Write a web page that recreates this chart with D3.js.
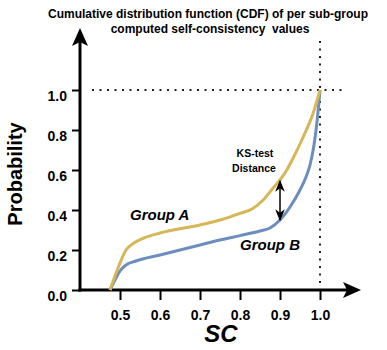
<!DOCTYPE html>
<html>
<head>
<meta charset="utf-8">
<script src="https://cdn.jsdelivr.net/npm/d3@7"></script>
<style>
  body { margin: 0; background: #fff; }
  svg text { font-family: "Liberation Sans", Arial, sans-serif; font-weight: bold; }
</style>
</head>
<body>
<svg id="chart" width="387" height="350"></svg>
<script>
// values
var group_a_sc = [0.475, 0.495, 0.515, 0.535, 0.56, 0.6, 0.7, 0.75, 0.8, 0.83, 0.858, 0.883, 0.9, 0.917, 0.933, 0.958, 0.983, 1.0];
var group_a_p  = [0, 0.11, 0.2, 0.235, 0.26, 0.285, 0.325, 0.35, 0.383, 0.405, 0.45, 0.51, 0.55, 0.6, 0.66, 0.765, 0.885, 1.0];
var group_b_sc = [0.475, 0.49, 0.5, 0.515, 0.54, 0.6, 0.7, 0.75, 0.8, 0.85, 0.875, 0.9, 0.925, 0.95, 0.965, 0.975, 0.985, 0.993, 1.0];
var group_b_p  = [0, 0.06, 0.095, 0.125, 0.145, 0.175, 0.225, 0.25, 0.272, 0.295, 0.31, 0.35, 0.415, 0.5, 0.565, 0.625, 0.725, 0.85, 1.0];
var x_ticks = [0.5, 0.6, 0.7, 0.8, 0.9, 1.0];
var y_ticks = [0.0, 0.2, 0.4, 0.6, 0.8, 1.0];
var ks_at = 0.9;

var svg = d3.select("#chart");
var x = d3.scaleLinear().domain([0.4, 1.0]).range([80, 320]);
var y = d3.scaleLinear().domain([0, 1]).range([290, 90]);

// title
var title = svg.append("text").attr("text-anchor", "middle").style("font-size", "12px").style("white-space", "pre");
title.append("tspan").attr("x", 208).attr("y", 18).text("Cumulative distribution function (CDF) of per sub-group");
title.append("tspan").attr("x", 210).attr("y", 33).text("computed self-consistency  values");

// dotted guides at (1.0, 1.0)
var dots = svg.append("g").attr("stroke", "#222").attr("stroke-width", 2).attr("stroke-dasharray", "2,5.5");
dots.append("line").attr("x1", 92).attr("x2", 342).attr("y1", y(1)).attr("y2", y(1));
dots.append("line").attr("x1", x(1)).attr("x2", x(1)).attr("y1", 41).attr("y2", 288);

// axes ticks
var xa = svg.append("g").attr("transform", "translate(0,290)")
  .call(d3.axisBottom(x).tickValues(x_ticks).tickSize(10).tickFormat(d3.format(".1f")));
var ya = svg.append("g").attr("transform", "translate(80,0)")
  .call(d3.axisLeft(y).tickValues(y_ticks).tickSize(8).tickFormat(d3.format(".1f")));
[xa, ya].forEach(function(a) {
  a.select(".domain").remove();
  a.selectAll(".tick line").attr("stroke", "#000").attr("stroke-width", 2);
  a.selectAll(".tick text").attr("fill", "#000").style("font-size", "14px").style("font-family", "Liberation Sans, Arial, sans-serif");
});
xa.selectAll(".tick text").attr("y", 20).attr("dy", "0.71em");
ya.selectAll(".tick text").attr("x", -13).attr("dy", "0.75em");

// axis lines with arrow heads
svg.append("line").attr("x1", 80).attr("x2", 80).attr("y1", 291.5).attr("y2", 40).attr("stroke", "#000").attr("stroke-width", 3);
svg.append("line").attr("x1", 78.5).attr("x2", 348).attr("y1", 290).attr("y2", 290).attr("stroke", "#000").attr("stroke-width", 3);
svg.append("path").attr("d", "M80,28 L88,46 L80,42 L72,46 Z").attr("fill", "#000");
svg.append("path").attr("d", "M361,290 L343,298 L347,290 L343,282 Z").attr("fill", "#000");

// axis titles
svg.append("text").attr("x", 221).attr("y", 342).attr("text-anchor", "middle")
  .style("font-size", "24px").style("font-style", "italic").text("SC");
svg.append("text").attr("transform", "translate(22,174) rotate(-90)").attr("text-anchor", "middle")
  .style("font-size", "20px").text("Probability");

// cdf curves
var line = d3.line().x(function(d) { return x(d[0]); }).y(function(d) { return y(d[1]); }).curve(d3.curveMonotoneX);
svg.append("path").datum(d3.zip(group_b_sc, group_b_p)).attr("d", line)
  .attr("fill", "none").attr("stroke", "#6C8EBF").attr("stroke-width", 3);
svg.append("path").datum(d3.zip(group_a_sc, group_a_p)).attr("d", line)
  .attr("fill", "none").attr("stroke", "#D6B656").attr("stroke-width", 3);

// KS distance arrow
svg.append("defs").append("marker").attr("id", "head").attr("viewBox", "0 0 10 10")
  .attr("refX", 9).attr("refY", 5).attr("markerWidth", 8).attr("markerHeight", 8)
  .attr("orient", "auto-start-reverse")
  .append("path").attr("d", "M0,1 L10,5 L0,9 L3,5 Z").attr("fill", "#000");
svg.append("line").attr("x1", x(ks_at)).attr("x2", x(ks_at)).attr("y1", 181).attr("y2", 220)
  .attr("stroke", "#000").attr("stroke-width", 1.5)
  .attr("marker-start", "url(#head)").attr("marker-end", "url(#head)");

// labels
svg.append("text").attr("x", 255).attr("y", 157).attr("text-anchor", "middle").style("font-size", "10.5px").text("KS-test");
svg.append("text").attr("x", 254).attr("y", 172).attr("text-anchor", "middle").style("font-size", "10.5px").text("Distance");
svg.append("text").attr("x", 130).attr("y", 220).style("font-size", "15px").style("font-style", "italic").text("Group A");
svg.append("text").attr("x", 240).attr("y", 250).style("font-size", "15px").style("font-style", "italic").text("Group B");
</script>
</body>
</html>
